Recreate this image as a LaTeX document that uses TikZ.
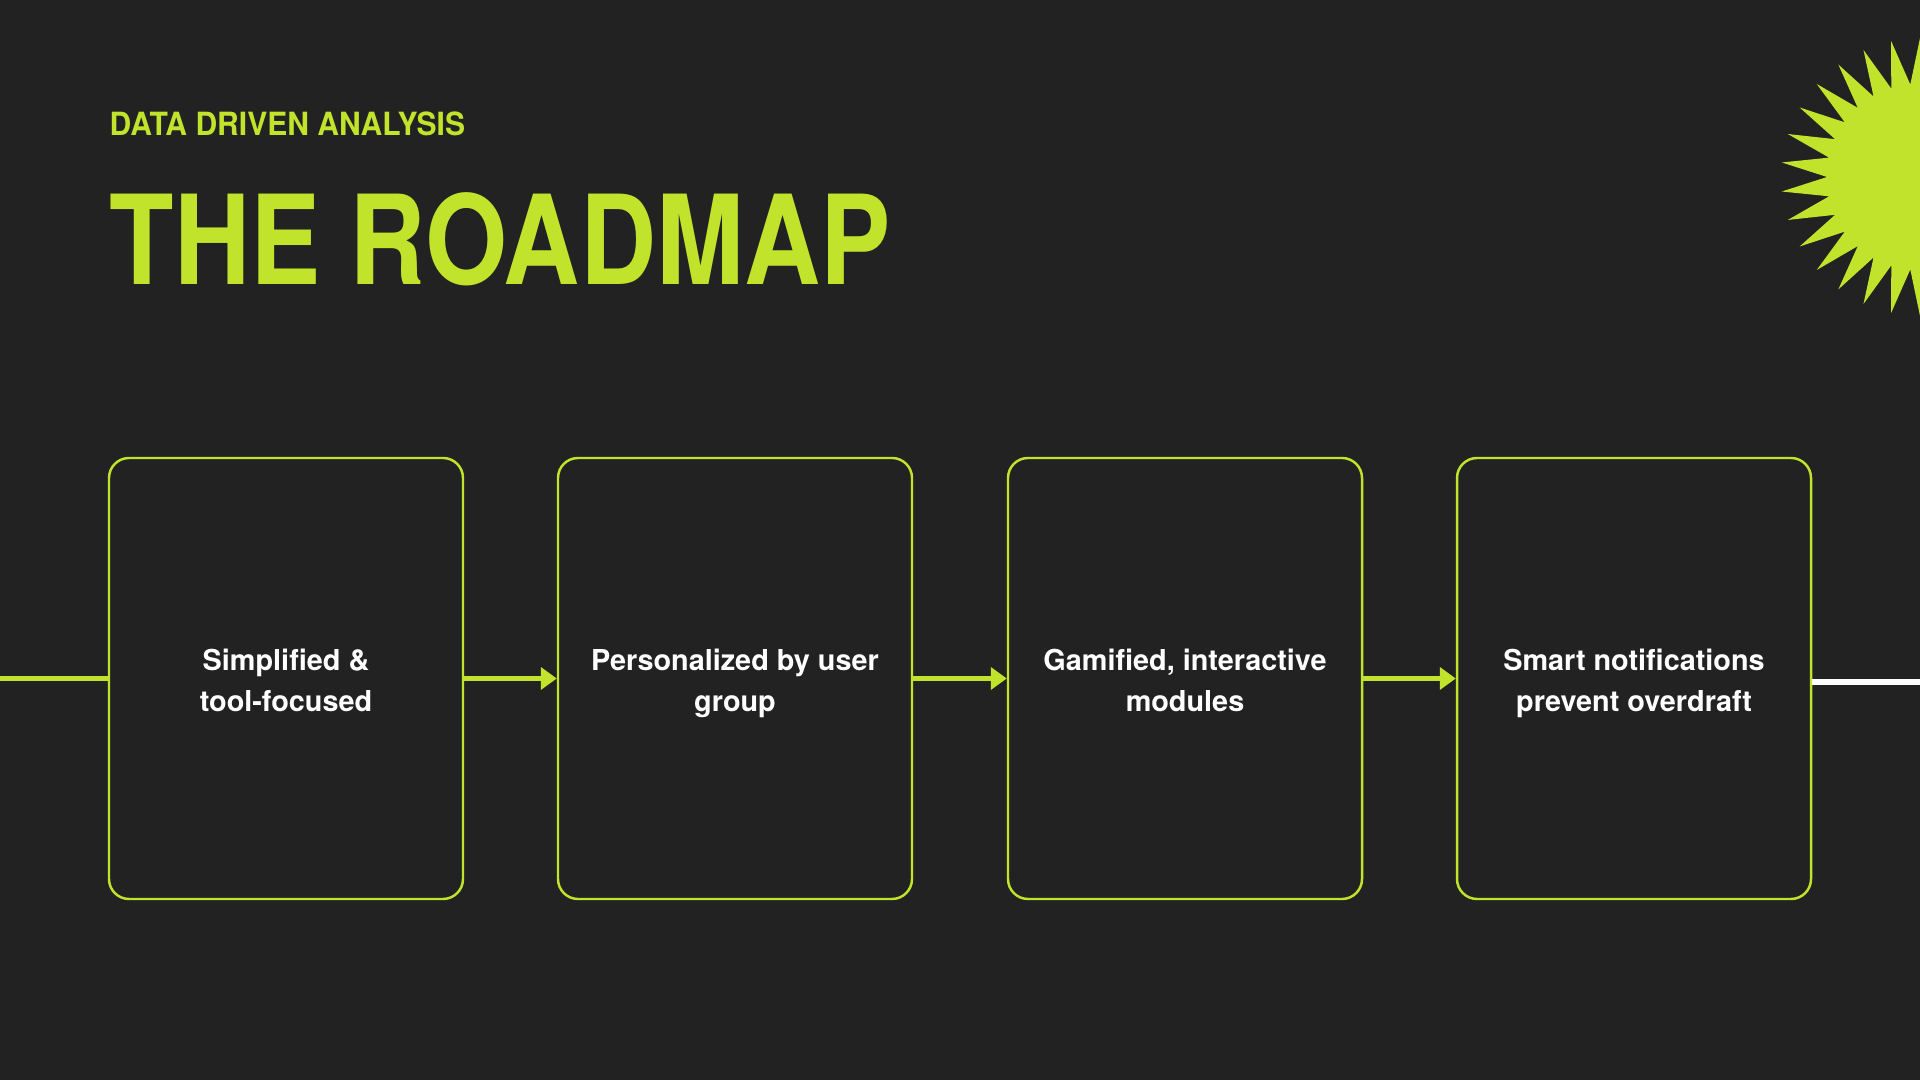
\documentclass[tikz,border=0pt]{standalone}
\usepackage{fontspec}
\setmainfont{TeX Gyre Heros}
\newfontfamily\headfont[FakeStretch=0.85]{TeX Gyre Heros}
\newfontfamily\kickfont[FakeStretch=0.94]{TeX Gyre Heros}
\usetikzlibrary{arrows.meta,positioning,calc}
\definecolor{bgdark}{HTML}{222222}
\definecolor{lime}{HTML}{C1E32B}
\newcommand{\highstrut}{\rule{0pt}{10.4pt}}
\tikzset{
  stage/.style={draw=lime,line width=0.7pt,rounded corners=0.2cm,minimum width=3.54cm,minimum height=4.41cm,
    align=center,text=white,font=\bfseries\fontsize{8.2}{11.7}\selectfont},
  link/.style={lime,line width=1.45pt}
}
\begin{document}
\begin{tikzpicture}[>={Triangle[length=0.16cm,width=0.22cm]}]
\useasboundingbox (0,0) rectangle (19.2,10.8);
\fill[bgdark] (0,0) rectangle (19.2,10.8);
\clip (0,0) rectangle (19.2,10.8);
\coordinate (sun) at (19.2,9.03);
\fill[lime,shift={(sun)}] plot[samples at={0,...,59},variable=\k] (6*\k:{ifthenelse(mod(\k,2)==0,0.93,1.39)}) -- cycle;
\node[anchor=base west,inner sep=0,text=lime,font=\kickfont\bfseries\fontsize{9.1}{11}\selectfont] (kick) at (1.09,9.44) {DATA DRIVEN ANALYSIS};
\node[anchor=base west,inner sep=0,text=lime,font=\headfont\bfseries\fontsize{35.3}{40}\selectfont] (title) at (1.09,7.95) {THE ROADMAP};
\node[stage] (b1) at (2.86,4.015) {\highstrut Simplified \&\\tool-focused\strut};
\node[stage] (b2) at (7.35,4.015) {\highstrut Personalized by user\\group\strut};
\node[stage] (b3) at (11.85,4.015) {\highstrut Gamified, interactive\\modules\strut};
\node[stage] (b4) at (16.34,4.015) {\highstrut Smart notifications\\prevent overdraft\strut};
\coordinate (in) at (0,4.015);
\coordinate (out) at (19.2,3.98);
\draw[link] (in)--(b1.west);
\draw[link,->] (b1.east)--(b2.west);
\draw[link,->] (b2.east)--(b3.west);
\draw[link,->] (b3.east)--(b4.west);
\draw[white,line width=1.45pt] (b4.east|-out)--(out);
\end{tikzpicture}
\end{document}
